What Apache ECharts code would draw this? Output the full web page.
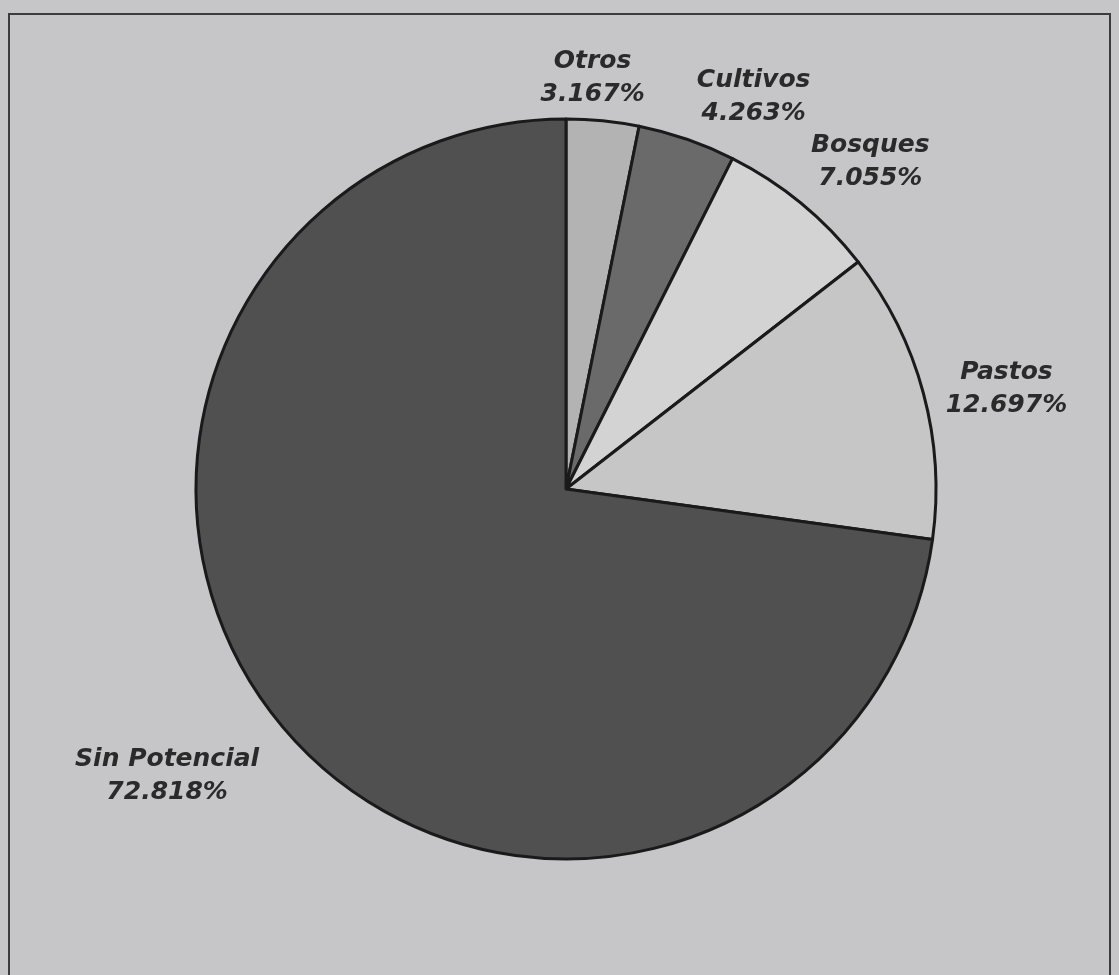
<!DOCTYPE html>
<html>
<head>
<meta charset="utf-8">
<script src="https://cdn.jsdelivr.net/npm/echarts@6/dist/echarts.min.js"></script>
<style>
html,body{margin:0;padding:0;background:#c5c5c7;}
#chart{width:1119px;height:975px;}
</style>
</head>
<body>
<div id="chart"></div>
<script>
const categories = ['Otros', 'Cultivos', 'Bosques', 'Pastos', 'Sin Potencial'];
const shares = [3.167, 4.263, 7.055, 12.697, 72.818];
const percentLabels = ['3.167%', '4.263%', '7.055%', '12.697%', '72.818%'];
const sliceColors = ['#b3b3b3', '#6a6a6a', '#d3d3d3', '#c6c6c6', '#505050'];

const CX = 566, CY = 489, R = 370;
const labelAngleNudge = [-2, 6.5, 3.5, 2.2, 5.3];
const labelGap = [380, 384, 385, 386, 400];

const chart = echarts.init(document.getElementById('chart'));
const total = shares.reduce((a, b) => a + b, 0);

const option = {
  backgroundColor: '#c6c6c8',
  animation: false,
  graphic: [{
    type: 'rect',
    shape: { x: 9, y: 14, width: 1101, height: 980 },
    style: { fill: 'none', stroke: '#3c3c3c', lineWidth: 2 }
  }],
  series: [{
    type: 'pie',
    center: [CX, CY],
    radius: [0, R],
    startAngle: 90,
    clockwise: true,
    silent: true,
    itemStyle: { borderColor: '#1a1a1a', borderWidth: 3 },
    label: {
      show: true,
      position: 'outside',
      formatter: p => '{a|' + p.name + '}\n{a|' + percentLabels[p.dataIndex] + '}',
      rich: {
        a: {
          align: 'center',
          fontFamily: 'DejaVu Sans',
          fontWeight: 'bold',
          fontStyle: 'italic',
          fontSize: 25,
          lineHeight: 33,
          color: '#2a2a2a'
        }
      }
    },
    labelLine: { show: false },
    labelLayout: function (p) {
      const i = p.dataIndex;
      let before = 0;
      for (let k = 0; k < i; k++) before += shares[k];
      const mid = (before + shares[i] / 2) / total * 360 + labelAngleNudge[i];
      const t = mid * Math.PI / 180;
      const ux = Math.sin(t), uy = -Math.cos(t);
      const w = p.labelRect.width, h = p.labelRect.height;
      const d = labelGap[i] + Math.abs(ux) * w / 2 + Math.abs(uy) * h / 2;
      return { x: CX + ux * d, y: CY + uy * d, align: 'center', verticalAlign: 'middle' };
    },
    data: categories.map((c, i) => ({
      name: c,
      value: shares[i],
      itemStyle: { color: sliceColors[i] }
    }))
  }]
};
chart.setOption(option);
</script>
</body>
</html>
